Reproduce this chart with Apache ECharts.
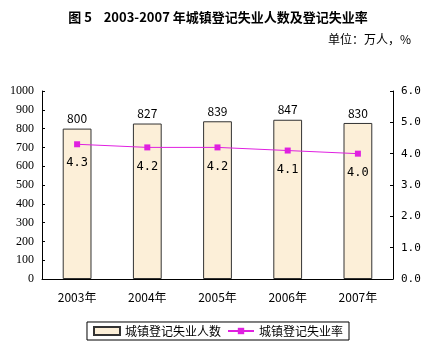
<!DOCTYPE html>
<html>
<head>
<meta charset="utf-8">
<script src="https://cdn.jsdelivr.net/npm/echarts@6/dist/echarts.min.js"></script>
<style>
  html, body { margin: 0; padding: 0; background: #fff; }
  #chart { width: 436px; height: 351px; }
</style>
</head>
<body>
<div id="chart"></div>
<script>
const years = ['2003年', '2004年', '2005年', '2006年', '2007年'];
const unemployedCount = [800, 827, 839, 847, 830];
const unemployedRate = [4.3, 4.2, 4.2, 4.1, 4.0];

const font = '"Noto Sans CJK SC", sans-serif';
const numFont = '"DejaVu Sans Mono", monospace';

const chart = echarts.init(document.getElementById('chart'));

chart.setOption({
  animation: false,
  textStyle: { fontFamily: font },
  title: [
    {
      text: '图 5    2003-2007 年城镇登记失业人数及登记失业率',
      left: 'center',
      top: 6,
      textStyle: { fontSize: 13, fontWeight: 'bold', color: '#000', fontFamily: font }
    },
    {
      text: '单位：万人，%',
      right: 20,
      top: 28,
      textStyle: { fontSize: 12, fontWeight: 'normal', color: '#000', fontFamily: font }
    }
  ],
  legend: {
    bottom: 11,
    left: 'center',
    itemGap: 6,
    padding: [3, 6],
    borderColor: '#000',
    borderWidth: 1,
    borderRadius: 0,
    itemWidth: 26,
    itemHeight: 8,
    textStyle: { fontSize: 12, color: '#000', fontFamily: font },
    data: [
      { name: '城镇登记失业人数', icon: 'rect' },
      { name: '城镇登记失业率' }
    ]
  },
  grid: { left: 42, right: 43, top: 91, bottom: 72 },
  xAxis: {
    type: 'category',
    data: years,
    axisLine: { lineStyle: { color: '#000' } },
    axisTick: { show: false },
    axisLabel: { color: '#000', fontSize: 12, margin: 12, fontFamily: font }
  },
  yAxis: [
    {
      type: 'value',
      min: 0,
      max: 1000,
      interval: 100,
      splitLine: { show: false },
      axisLine: { show: true, lineStyle: { color: '#000' } },
      axisTick: { show: true, inside: true, length: 3, lineStyle: { color: '#000' } },
      axisLabel: {
        color: '#000', fontSize: 12, margin: 8, fontFamily: '"Liberation Serif", serif',
        formatter: v => String(v)
      }
    },
    {
      type: 'value',
      min: 0,
      max: 6,
      interval: 1,
      splitLine: { show: false },
      axisLine: { show: true, lineStyle: { color: '#000' } },
      axisTick: { show: true, inside: true, length: 3, lineStyle: { color: '#000' } },
      axisLabel: {
        color: '#000', fontSize: 11, margin: 8, fontFamily: numFont,
        formatter: v => v.toFixed(1)
      }
    }
  ],
  series: [
    {
      name: '城镇登记失业人数',
      type: 'bar',
      data: unemployedCount,
      barWidth: '41%',
      itemStyle: { color: '#FCEFD8', borderColor: '#333', borderWidth: 1 },
      label: {
        show: true,
        position: 'top',
        distance: 4,
        color: '#000',
        fontSize: 12,
        fontFamily: font
      }
    },
    {
      name: '城镇登记失业率',
      type: 'line',
      yAxisIndex: 1,
      data: unemployedRate,
      symbol: 'rect',
      symbolSize: 6,
      lineStyle: { color: '#E020E0', width: 1 },
      itemStyle: { color: '#E020E0' },
      label: {
        show: true,
        position: 'bottom',
        distance: 10,
        color: '#000',
        fontSize: 12,
        fontFamily: numFont,
        formatter: p => p.value.toFixed(1)
      }
    }
  ]
});
</script>
</body>
</html>
